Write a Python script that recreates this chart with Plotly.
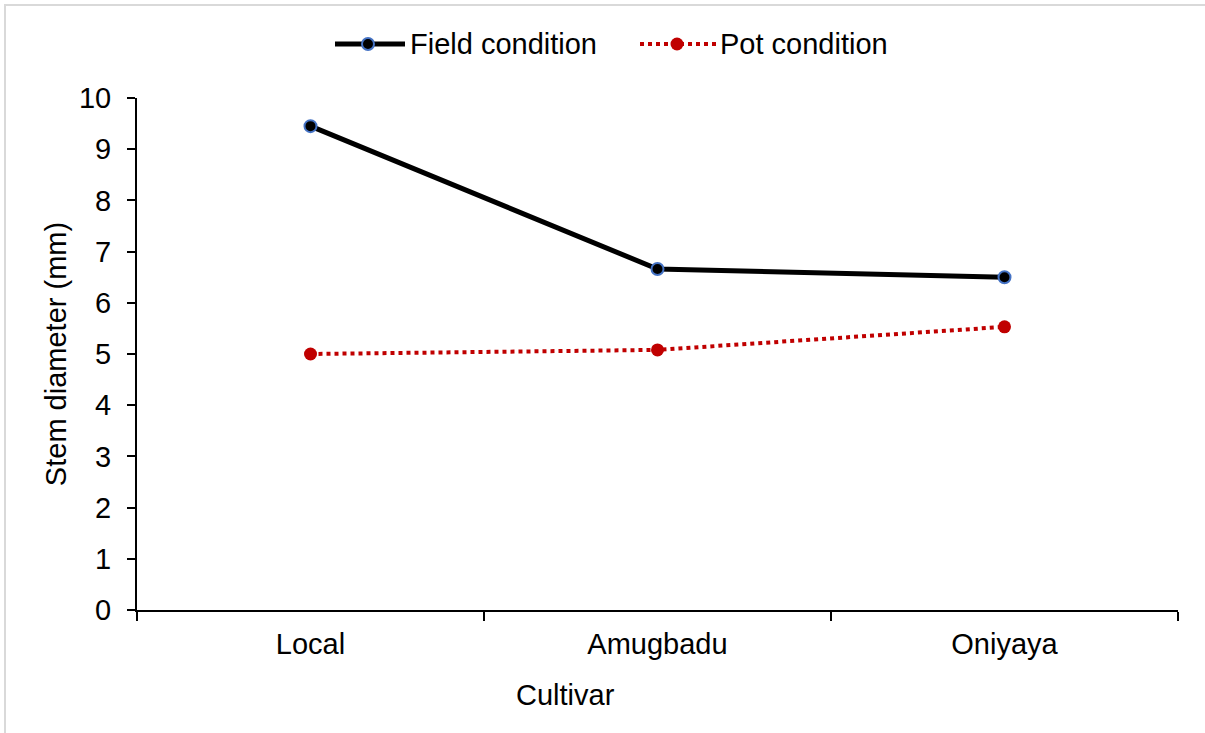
import plotly.graph_objects as go

cultivars = ["Local", "Amugbadu", "Oniyaya"]
field_condition = [9.45, 6.66, 6.50]
pot_condition = [5.00, 5.08, 5.53]
y_ticks = [0, 1, 2, 3, 4, 5, 6, 7, 8, 9, 10]

FONT = "Liberation Sans, Arial, sans-serif"
FS = 29

fig = go.Figure()
fig.add_trace(go.Scatter(
    x=cultivars, y=field_condition, name="Field condition",
    mode="lines+markers",
    line=dict(color="black", width=5),
    marker=dict(color="black", size=12, line=dict(color="#4472C4", width=2)),
))
fig.add_trace(go.Scatter(
    x=cultivars, y=pot_condition, name="Pot condition",
    mode="lines+markers",
    line=dict(color="#C00000", width=4, dash="dot"),
    marker=dict(color="#C00000", size=13, line=dict(color="#C00000", width=0)),
))

W, H = 1205, 733
L, R, T, B = 137, 27, 98, 123
pw, ph = W - L - R, H - T - B

def px(x):
    return (x - L) / pw

def py(y):
    return (H - B - y) / ph

shapes = [dict(type="rect", xref="paper", yref="paper",
               x0=px(5), x1=px(1215), y0=py(745), y1=py(5),
               line=dict(color="#D9D9D9", width=2), layer="below")]

# manual legend
LY = 44
shapes += [
    dict(type="line", xref="paper", yref="paper", x0=px(335), x1=px(405), y0=py(LY), y1=py(LY),
         line=dict(color="black", width=5)),
    dict(type="circle", xref="paper", yref="paper", x0=px(362), x1=px(374), y0=py(LY + 6), y1=py(LY - 6),
         fillcolor="black", line=dict(color="#4472C4", width=2)),
    dict(type="line", xref="paper", yref="paper", x0=px(640), x1=px(718), y0=py(LY), y1=py(LY),
         line=dict(color="#C00000", width=4, dash="dot")),
    dict(type="circle", xref="paper", yref="paper", x0=px(670.5), x1=px(683.5), y0=py(LY + 6.5), y1=py(LY - 6.5),
         fillcolor="#C00000", line=dict(color="#C00000", width=0)),
]

annotations = [
    dict(text="Cultivar", x=px(565), y=py(695), xref="paper", yref="paper",
         showarrow=False, xanchor="center", yanchor="middle", font=dict(size=FS)),
    dict(text="Field condition", x=px(408), y=py(LY), xref="paper", yref="paper",
         showarrow=False, xanchor="left", yanchor="middle", font=dict(size=FS)),
    dict(text="Pot condition", x=px(718), y=py(LY), xref="paper", yref="paper",
         showarrow=False, xanchor="left", yanchor="middle", font=dict(size=FS)),
]

fig.update_layout(
    width=W, height=H,
    margin=dict(l=L, r=R, t=T, b=B),
    paper_bgcolor="white", plot_bgcolor="white",
    font=dict(family=FONT, size=FS, color="black"),
    showlegend=False,
    xaxis=dict(type="category", range=[-0.5, 2.5], showline=True, linecolor="black", linewidth=2,
               ticks="outside", tickson="boundaries", ticklen=9, tickwidth=2, tickcolor="black",
               showgrid=False, zeroline=False, tickfont=dict(size=FS), ticklabelstandoff=7),
    yaxis=dict(range=[0, 10], tickvals=y_ticks, showline=True, linecolor="black", linewidth=2,
               ticks="outside", ticklen=8, tickwidth=2, tickcolor="black",
               showgrid=False, zeroline=False, tickfont=dict(size=FS), ticklabelstandoff=10,
               title=dict(text="Stem diameter (mm)", font=dict(size=FS), standoff=4)),
    annotations=annotations,
    shapes=shapes,
)

fig.write_html("out.html")
